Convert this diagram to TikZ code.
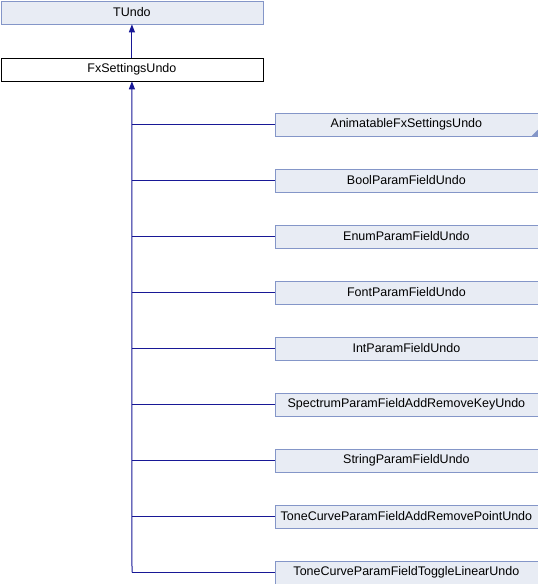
\documentclass[tikz,border=0pt]{standalone}
\usepackage{fontspec}
\setmainfont{Liberation Sans}
\usetikzlibrary{arrows.meta}
\definecolor{boxfill}{RGB}{232,236,244}
\definecolor{boxline}{RGB}{132,150,200}
\definecolor{edgeblue}{RGB}{24,24,150}
\begin{document}
\begin{tikzpicture}[x=1pt,y=-1pt,
  cls/.style={draw=boxline,fill=boxfill,line width=0.8pt,minimum height=23pt,
    inner sep=0pt,anchor=north west,font=\fontsize{12.5}{13}\selectfont},
  wide/.style={cls,minimum width=262pt},
  sub/.style={cls,minimum width=263pt},
  cur/.style={wide,draw=black,fill=white},
  inherit/.style={draw=edgeblue,line width=1pt},
  tip/.style={-{Triangle[length=8pt,width=6pt]}}]
\useasboundingbox (0,0) rectangle (538,584);

\node[wide] (tundo) at (0.5,0.5) {TUndo};
\node[cur] (fx) at (0.5,57.5) {FxSettingsUndo};
\draw[inherit,tip] (fx.north) -- (tundo.south);

% derived classes
\foreach \name/\lbl [count=\i from 0] in {
  anim/AnimatableFxSettingsUndo,
  bool/BoolParamFieldUndo,
  enum/EnumParamFieldUndo,
  font/FontParamFieldUndo,
  int/IntParamFieldUndo,
  spec/SpectrumParamFieldAddRemoveKeyUndo,
  str/StringParamFieldUndo,
  tcadd/ToneCurveParamFieldAddRemovePointUndo,
  tctog/ToneCurveParamFieldToggleLinearUndo}
{
  \node[sub] (\name) at (274.5,112.5+56*\i) {\lbl};
}

% marker for further derived classes
\fill[boxline] (anim.south east) ++(-0.5,-0.5) -- ++(-6,0) -- ++(6,-6) -- cycle;

% inheritance tree
\coordinate (trunk) at (fx.south -| 132,0);
\coordinate (bottom) at (tctog.west -| trunk);
\draw[inherit,tip] (bottom) -- (fx.south);
\foreach \name in {anim,bool,enum,font,int,spec,str,tcadd,tctog}
  \draw[inherit] (\name.west) -- (\name.west -| trunk);
\end{tikzpicture}
\end{document}
